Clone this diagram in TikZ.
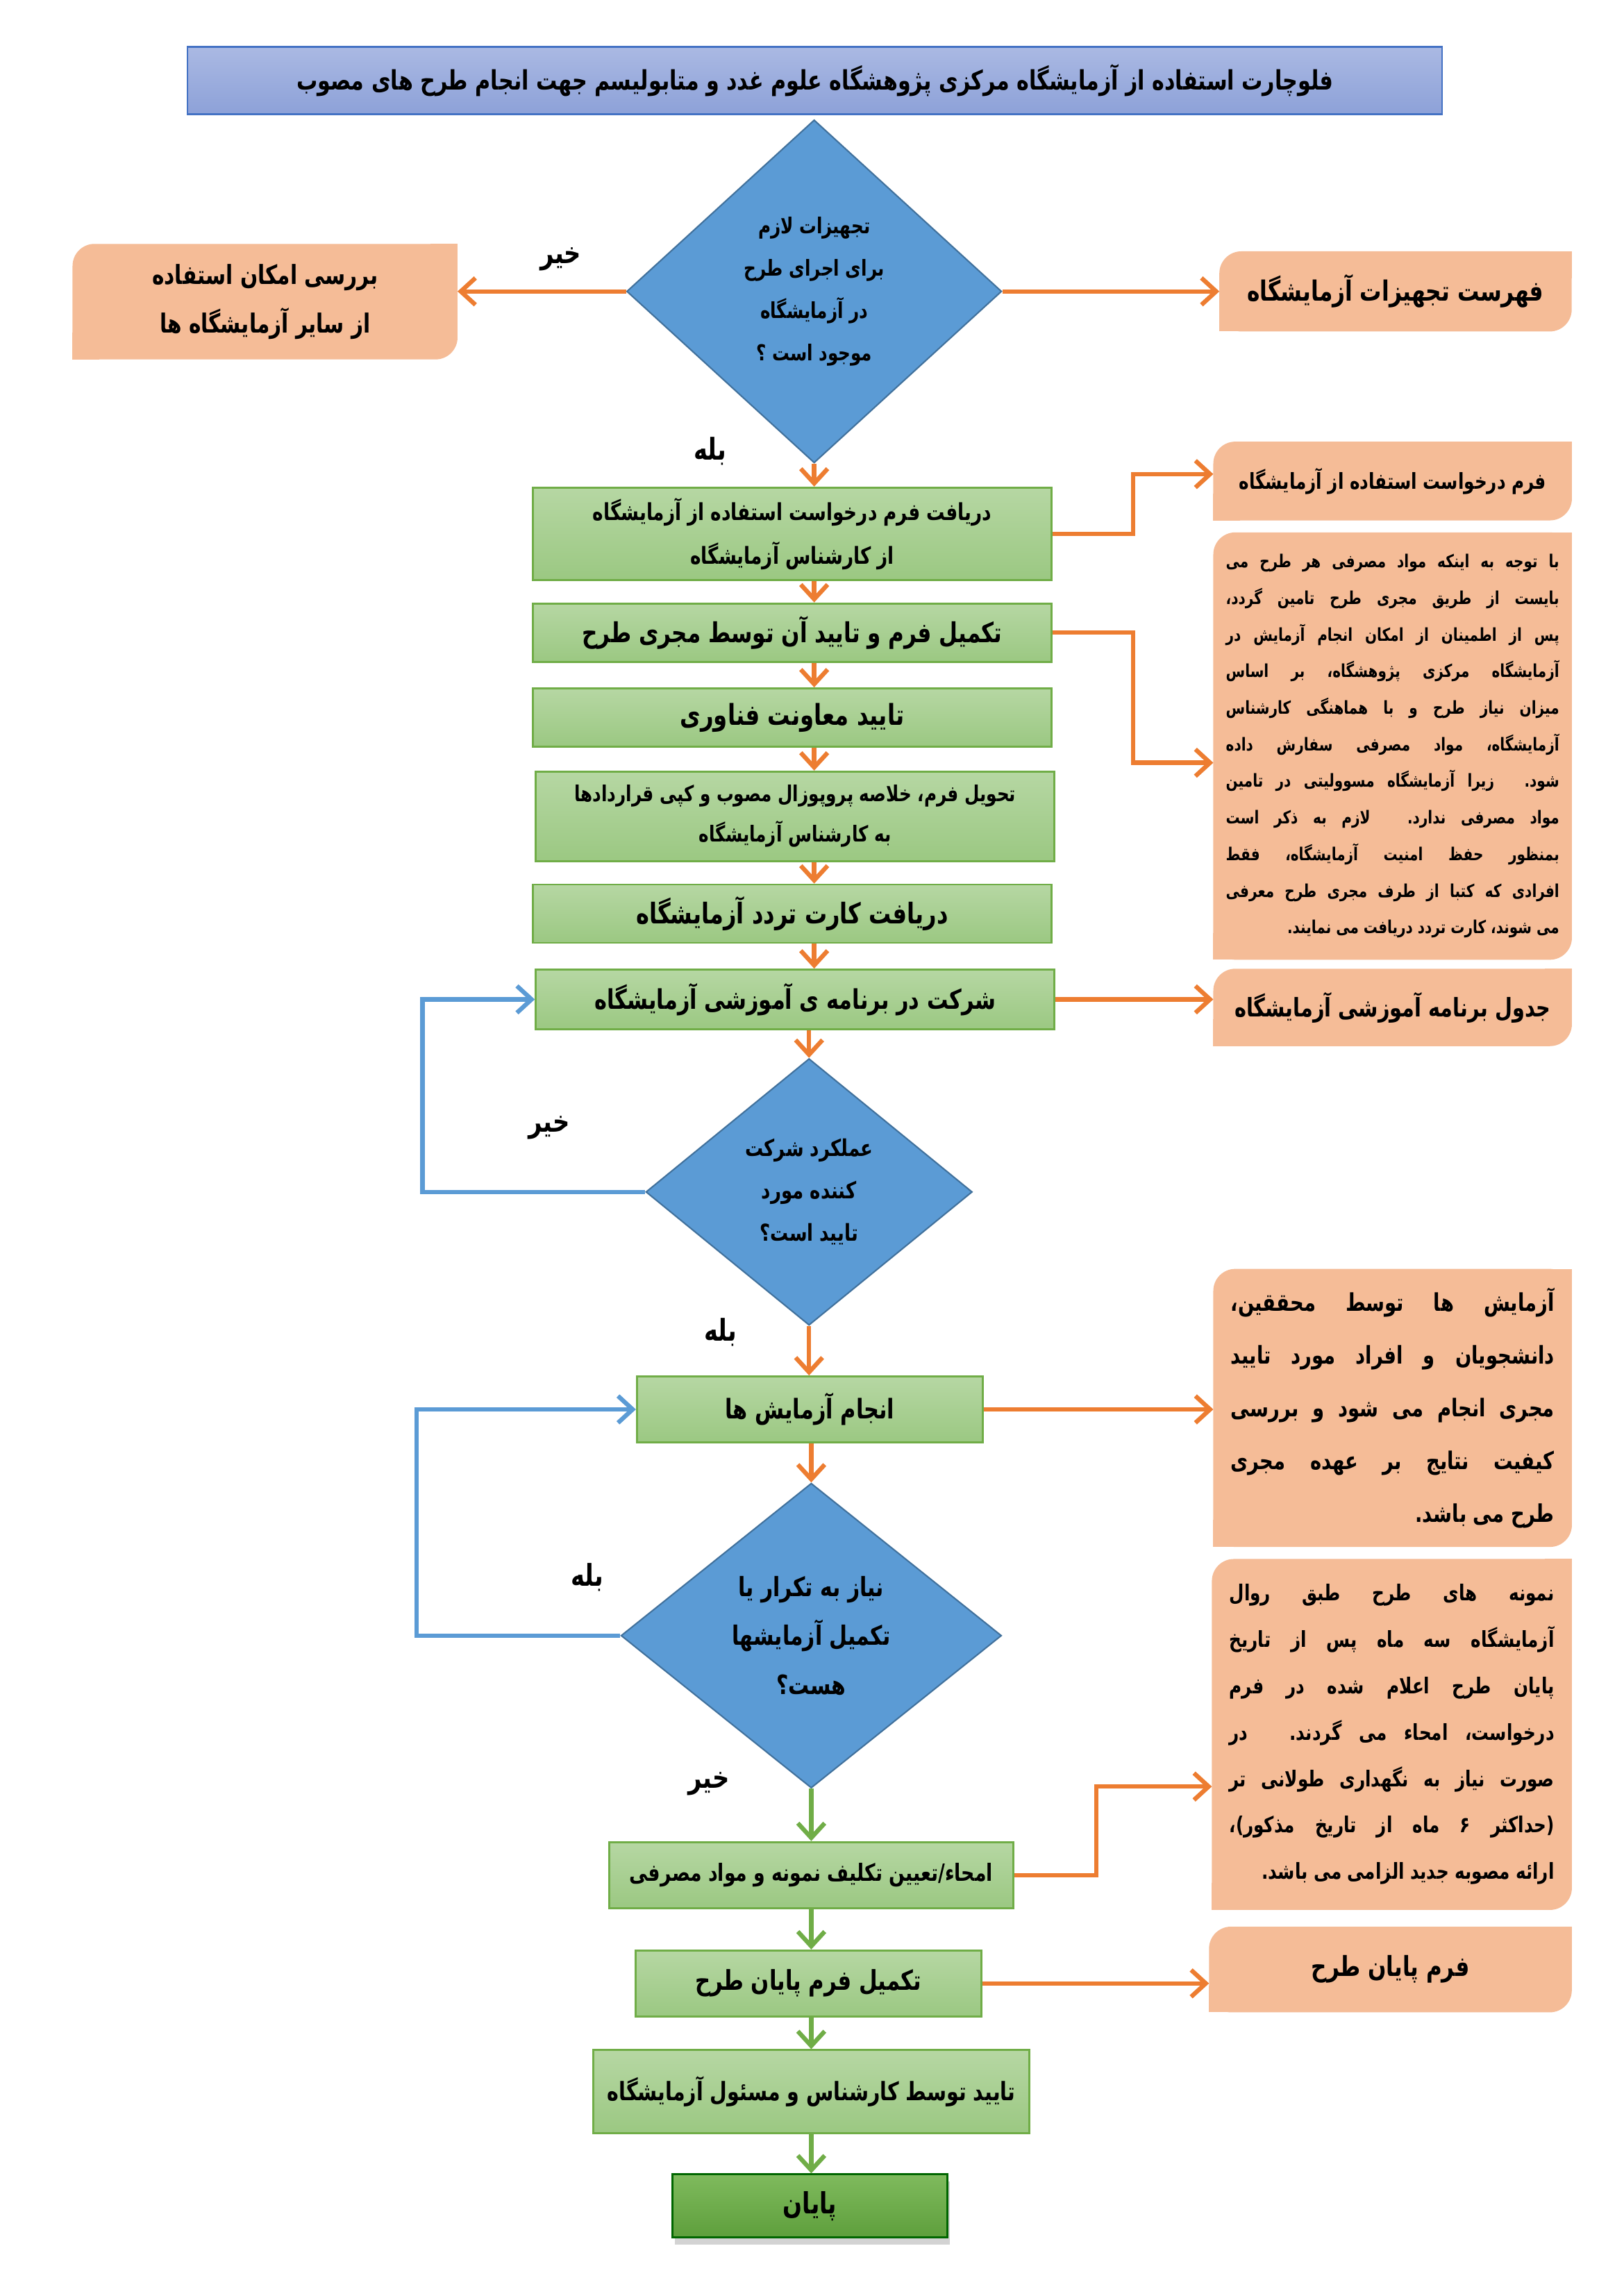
\documentclass[tikz,border=0pt]{standalone}
\usepackage{fontspec}
\usetikzlibrary{shapes.geometric,arrows.meta,backgrounds,shadows}
\newfontfamily\farsi[Script=Arabic,FakeStretch=0.78]{DejaVu Sans}
\TeXXeTstate=1
\newcommand{\rl}[1]{\beginR#1\endR}
\definecolor{orng}{HTML}{ED7D31}
\definecolor{blu}{HTML}{5B9BD5}
\definecolor{bluline}{HTML}{41719C}
\definecolor{grnline}{HTML}{70AD47}
\definecolor{grntop}{HTML}{B6D7A3}
\definecolor{grnbot}{HTML}{9BC882}
\definecolor{endtop}{HTML}{7FBA5D}
\definecolor{endbot}{HTML}{5E9F3C}
\definecolor{peach}{HTML}{F5BC97}
\definecolor{ttltop}{HTML}{AAB9E3}
\definecolor{ttlbot}{HTML}{8DA1D8}
\definecolor{ttlline}{HTML}{4472C4}
\tikzset{
	fs/.style 2 args={font=\farsi\bfseries\fontsize{#1}{#2}\selectfont},
	box/.style={draw=grnline,line width=0.8pt,top color=grntop,bottom color=grnbot,
		inner sep=0pt,align=center},
	ques/.style={diamond,draw=bluline,line width=0.6pt,fill=blu,inner sep=0pt},
	note/.style={inner sep=0pt,align=center},
	lbl/.style={fs={12.3}{15}},
	oarrow/.style={draw=orng,line width=1.8pt,-{Straight Barb[length=6pt,width=11pt]}},
	barrow/.style={draw=blu,line width=1.8pt,-{Straight Barb[length=6pt,width=11pt]}},
	garrow/.style={draw=grnline,line width=1.8pt,-{Straight Barb[length=6pt,width=11pt]}}
}
\begin{document}
\begin{tikzpicture}[x=0.02109cm,y=-0.02109cm]
	\useasboundingbox (0,0) rectangle (1109,1568);
	% title
	\node[draw=ttlline,line width=0.6pt,top color=ttltop,bottom color=ttlbot,
		minimum width=18.07cm,minimum height=0.97cm,inner sep=0pt,fs={11}{14}] (title) at (556.5,55)
		{\rl{فلوچارت استفاده از آزمایشگاه مرکزی پژوهشگاه علوم غدد و متابولیسم جهت انجام طرح های مصوب}};
	% main column
	\node[ques,minimum width=5.40cm,minimum height=4.94cm] (q1) at (556,199) {};
	\node[fs={9}{17.4},align=center] (q1txt) at (q1) {\rl{تجهیزات لازم}\\\rl{برای اجرای طرح}\\\rl{در آزمایشگاه}\\\rl{موجود است ؟}};
	\node[box,minimum width=7.47cm,minimum height=1.33cm,fs={9.6}{18}] (b1) at (541,364.5)
		{\rl{دریافت فرم درخواست استفاده از آزمایشگاه}\\\rl{از کارشناس آزمایشگاه}};
	\node[box,minimum width=7.47cm,minimum height=0.84cm,fs={11.3}{14}] (b2) at (541,432) {\rl{تکمیل فرم و تایید آن توسط مجری طرح}};
	\node[box,minimum width=7.47cm,minimum height=0.84cm,fs={11.8}{14}] (b3) at (541,490) {\rl{تایید معاونت فناوری}};
	\node[box,minimum width=7.47cm,minimum height=1.29cm,fs={9}{16.5}] (b4) at (543,557.5)
		{\rl{تحویل فرم،  خلاصه پروپوزال مصوب و کپی قراردادها}\\\rl{به کارشناس آزمایشگاه}};
	\node[box,minimum width=7.47cm,minimum height=0.84cm,fs={11.7}{14}] (b5) at (541,624) {\rl{دریافت کارت تردد آزمایشگاه}};
	\node[box,minimum width=7.47cm,minimum height=0.86cm,fs={11.1}{14}] (b6) at (543,682.5) {\rl{شرکت در برنامه ی آموزشی آزمایشگاه}};
	\node[ques,minimum width=4.70cm,minimum height=3.84cm] (q2) at (552.5,814) {};
	\node[fs={9.5}{17.4},align=center] (q2txt) at (q2) {\rl{عملکرد شرکت}\\\rl{کننده مورد}\\\rl{تایید است؟}};
	\node[box,minimum width=4.98cm,minimum height=0.95cm,fs={11.1}{14}] (b7) at (553,962.5) {\rl{انجام آزمایش ها}};
	\node[ques,minimum width=5.48cm,minimum height=4.39cm] (q3) at (554,1117) {};
	\node[fs={10.9}{20},align=center] (q3txt) at (q3) {\rl{نیاز به تکرار یا}\\\rl{تکمیل آزمایشها}\\\rl{هست؟}};
	\node[box,minimum width=5.82cm,minimum height=0.95cm,fs={9.75}{14}] (b8) at (554,1280.5) {\rl{امحاء/تعیین تکلیف نمونه و مواد مصرفی}};
	\node[box,minimum width=4.98cm,minimum height=0.95cm,fs={11.2}{14}] (b9) at (552,1354.5) {\rl{تکمیل فرم پایان طرح}};
	\node[box,minimum width=6.28cm,minimum height=1.20cm,fs={10.4}{14}] (b10) at (554,1428.5) {\rl{تایید توسط کارشناس و مسئول آزمایشگاه}};
	\node[box,draw=green!40!black,top color=endtop,bottom color=endbot,
		drop shadow={opacity=0.35,shadow xshift=1pt,shadow yshift=-3pt},
		minimum width=3.96cm,minimum height=0.91cm,fs={12}{15}] (end) at (553,1506.5) {\rl{پایان}};
	% side notes
	\node[note,minimum width=5.53cm,minimum height=1.65cm,fs={10.8}{20}] (LB) at (181,206)
		{\rl{بررسی امکان استفاده}\\\rl{از سایر آزمایشگاه ها}};
	\node[note,minimum width=5.06cm,minimum height=1.14cm,fs={11.4}{14}] (R1) at (953,199) {\rl{فهرست تجهیزات آزمایشگاه}};
	\node[note,minimum width=5.15cm,minimum height=1.12cm,fs={9}{12}] (R2) at (951,328.5) {\rl{فرم درخواست استفاده از آزمایشگاه}};
	\node[note,minimum width=5.15cm,minimum height=6.14cm,text width=4.8cm,align=justify,
		fs={7.3}{15}] (R3) at (951,509.5)
		{\parfillskip=0pt\rl{با توجه به اینکه مواد مصرفی هر طرح می\linebreak
		بایست از طریق مجری طرح تامین گردد،\linebreak
		پس از اطمینان از امکان انجام آزمایش در\linebreak
		آزمایشگاه مرکزی پژوهشگاه، بر اساس\linebreak
		میزان نیاز طرح و با هماهنگی کارشناس\linebreak
		آزمایشگاه، مواد مصرفی سفارش داده\linebreak
		شود. زیرا آزمایشگاه مسوولیتی در تامین\linebreak
		مواد مصرفی ندارد. لازم به ذکر است\linebreak
		بمنظور حفظ امنیت آزمایشگاه، فقط\linebreak
		افرادی که کتبا از طرف مجری طرح معرفی\linebreak
		می شوند، کارت تردد دریافت می نمایند.\hfill}};
	\node[note,minimum width=5.15cm,minimum height=1.10cm,fs={10.5}{14}] (R4) at (951,688) {\rl{جدول برنامه آموزشی آزمایشگاه}};
	\node[note,minimum width=5.15cm,minimum height=3.99cm,text width=4.66cm,align=justify,
		fs={10}{21.6}] (R5) at (951,961.5)
		{\parfillskip=0pt\rl{آزمایش ها توسط محققین،\linebreak
		دانشجویان و افراد مورد تایید\linebreak
		مجری انجام می شود و بررسی\linebreak
		کیفیت نتایج بر عهده مجری\linebreak
		طرح می باشد.\hfill}};
	\node[note,minimum width=5.17cm,minimum height=5.04cm,text width=4.68cm,align=justify,
		fs={9}{19}] (R6) at (950.5,1184.5)
		{\parfillskip=0pt\rl{نمونه های طرح طبق روال\linebreak
		آزمایشگاه سه ماه پس از تاریخ\linebreak
		پایان طرح اعلام شده در فرم\linebreak
		درخواست، امحاء می گردند. در\linebreak
		صورت نیاز به نگهداری طولانی تر\linebreak
		(حداکثر ۶ ماه از تاریخ مذکور)،\linebreak
		ارائه مصوبه جدید الزامی می باشد.\hfill}};
	\node[note,minimum width=5.21cm,minimum height=1.22cm,fs={11.3}{14}] (R7) at (949.5,1345) {\rl{فرم پایان طرح}};
	\begin{scope}[on background layer]
		\foreach \n in {LB,R1,R2,R3,R4,R5,R6,R7}{
			\fill[peach,rounded corners=9pt] (\n.south west) rectangle (\n.north east);
			\fill[peach] (\n.north east) rectangle ++(-11pt,-11pt);
			\fill[peach] (\n.south west) rectangle ++(11pt,11pt);
		}
	\end{scope}
	% yes / no labels
	\node[lbl] (q1no) at (383,177) {\rl{خیر}};
	\node[lbl] (q1yes) at (485,308) {\rl{بله}};
	\node[lbl] (q2no) at (375,770) {\rl{خیر}};
	\node[lbl] (q2yes) at (492,910) {\rl{بله}};
	\node[lbl] (q3yes) at (401,1077) {\rl{بله}};
	\node[lbl] (q3no) at (484,1218) {\rl{خیر}};
	% connectors
	\draw[oarrow] (q1.west) -- (q1.west -| LB.east);
	\draw[oarrow] (q1.east) -- (q1.east -| R1.west);
	\draw[oarrow] (q1.south) -- (q1.south |- b1.north);
	\draw[oarrow] (b1.south -| q1) -- (b2.north -| q1);
	\draw[oarrow] (b2.south -| q1) -- (b3.north -| q1);
	\draw[oarrow] (b3.south -| q1) -- (b4.north -| q1);
	\draw[oarrow] (b4.south -| q1) -- (b5.north -| q1);
	\draw[oarrow] (b5.south -| q1) -- (b6.north -| q1);
	\draw[oarrow] (b6.south -| q2) -- (q2.north);
	\draw[oarrow] (q2.south) -- (q2.south |- b7.north);
	\draw[oarrow] (b7.south -| q3) -- (q3.north);
	\draw[garrow] (q3.south) -- (q3.south |- b8.north);
	\draw[garrow] (b8.south -| q3) -- (b9.north -| q3);
	\draw[garrow] (b9.south -| q3) -- (b10.north -| q3);
	\draw[garrow] (b10.south -| q3) -- (end.north -| q3);
	\draw[oarrow] (b1.east) -- ++(55,0) |- ([yshift=0.1cm]R2.west);
	\draw[oarrow] (b2.east) -- ++(55,0) |- ([yshift=-0.24cm]R3.west);
	\draw[oarrow] (b6.east) -- (b6.east -| R4.west);
	\draw[oarrow] (b7.east) -- (b7.east -| R5.west);
	\draw[oarrow] (b8.east) -- ++(56,0) |- ([yshift=-0.75cm]R6.west);
	\draw[oarrow] (b9.east) -- (b9.east -| R7.west);
	\draw[barrow] (q2.west) -- ++(-152,0) |- (b6.west);
	\draw[barrow] (q3.west) -- ++(-139,0) |- (b7.west);
\end{tikzpicture}
\end{document}
